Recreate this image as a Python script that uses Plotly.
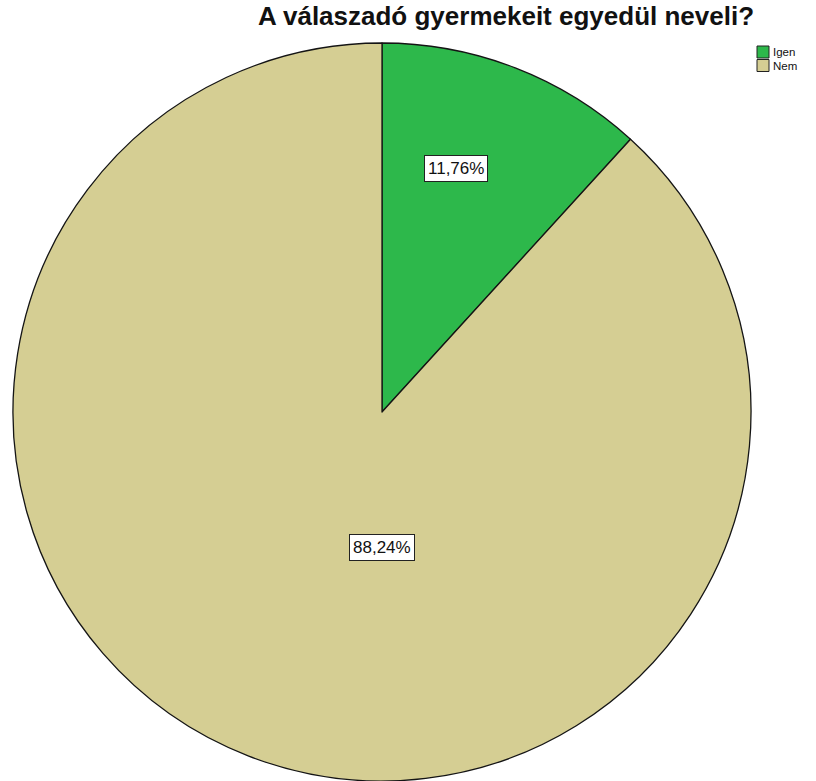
import math
import plotly.graph_objects as go

# Category shares (percent)
labels = ["Igen", "Nem"]
values = [11.76, 88.24]
colors = ["#2db84b", "#d5ce93"]
value_text = ["11,76%", "88,24%"]

# Placement of the value boxes: (angle in degrees clockwise from 12 o'clock, radius fraction)
label_polar = [(17, 0.69), (180, 0.368)]

W, H = 816, 781
cx, top = 382, 43  # pie centre x and top edge in pixels
FONT = "Liberation Sans, Arial, sans-serif"

fig = go.Figure(
    go.Pie(
        labels=labels,
        values=values,
        sort=False,
        direction="clockwise",
        rotation=0,
        marker=dict(colors=colors, line=dict(color="#141414", width=1.3)),
        textinfo="none",
        hoverinfo="label+percent",
        showlegend=False,
        domain=dict(x=[(cx - 380) / W, (cx + 380) / W], y=[0, 1 - top / H]),
    )
)

# Pixel geometry of the rendered pie (diameter = domain height)
r = (H - top) / 2
cy = top + r

# Value boxes
for (ang, f), txt in zip(label_polar, value_text):
    a = math.radians(ang)
    px = cx + r * f * math.sin(a)
    py = cy - r * f * math.cos(a)
    fig.add_annotation(
        x=px / W, y=1 - py / H, xref="paper", yref="paper",
        xanchor="center", yanchor="middle",
        text=txt, showarrow=False,
        font=dict(family=FONT, size=17, color="#111"),
        bgcolor="white", bordercolor="#222", borderwidth=1, borderpad=3,
    )

# Compact legend in the top-right corner
lx, ly, box, step = 757, 46, 12, 13.5
for i, (lab, col) in enumerate(zip(labels, colors)):
    y0 = ly + i * step
    fig.add_shape(
        type="rect", xref="paper", yref="paper",
        x0=lx / W, x1=(lx + box) / W,
        y0=1 - (y0 + box) / H, y1=1 - y0 / H,
        fillcolor=col, line=dict(color="#222", width=1),
    )
    fig.add_annotation(
        x=(lx + box + 2) / W, y=1 - (y0 + box / 2) / H,
        xref="paper", yref="paper", xanchor="left", yanchor="middle",
        text=lab, showarrow=False,
        font=dict(family=FONT, size=11.5, color="#111"),
    )

fig.update_layout(
    width=W, height=H,
    margin=dict(l=0, r=0, t=0, b=0),
    paper_bgcolor="white",
    showlegend=False,
    title=dict(
        text="<b>A válaszadó gyermekeit egyedül neveli?</b>",
        x=506 / W, xanchor="center",
        y=1 - 7 / H, yanchor="top",
        yref="container",
        pad=dict(t=0, b=0),
        font=dict(family=FONT, size=26, color="#111"),
    ),
)

fig.write_html("out.html")
